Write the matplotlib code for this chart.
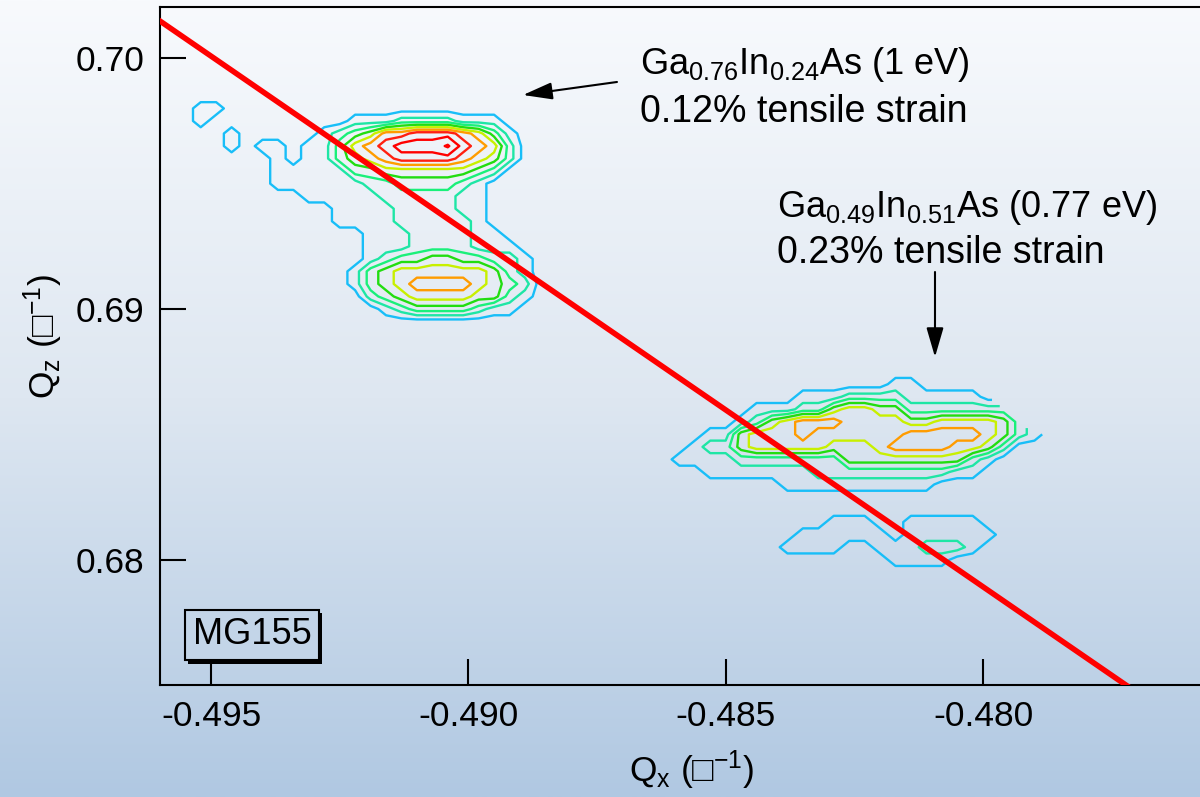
import numpy as np
import matplotlib
matplotlib.use("Agg")
import matplotlib.pyplot as plt
from matplotlib import patheffects

plt.rcParams["font.family"] = ["Liberation Sans", "DejaVu Sans"]
plt.rcParams["mathtext.fontset"] = "custom"
plt.rcParams["mathtext.rm"] = "Liberation Sans"
plt.rcParams["mathtext.it"] = "Liberation Sans"
plt.rcParams["mathtext.bf"] = "Liberation Sans"
plt.rcParams["mathtext.fallback"] = "stix"
plt.rcParams["axes.unicode_minus"] = False

# ---- reciprocal space map: contour level index at each grid node ('.' = not scanned)
upper_qx_start, upper_qx_step = -0.4955, 0.0003
upper_qz_start, upper_qz_step = 0.6985, -0.0005
upper_map = [
    "0000000000000000000000000",
    "0110000000000000000000000",
    "0100000000011122221110000",
    "0001000001234667776531000",
    "0001011011356788897652000",
    "0000001011345677776542000",
    "0000001111133444444320000",
    "0000001111112233332100000",
    "0000000011111222221100000",
    "0000000000111122221100000",
    "0000000000111122222100000",
    "0000000000001112222110000",
    "0000000000001112222111000",
    "0000000000001233443322100",
    "0000000000013455555542100",
    "0000000000013456666543200",
    "0000000000002345555442100",
    "0000000000000123333211000",
    "0000000000000000000000000",
    "0000000000000000000000000",
]

lower_qx_start, lower_qx_step = -0.4865, 0.0003
lower_qz_start, lower_qz_step = 0.6880, -0.0005
lower_map = [
    "0000000000000000000000......",
    "0000000000000000000000......",
    "00000000000000001100000.....",
    "00000000001112222111110.....",
    "0000000111224554422222222...",
    "0000001245666555544555542...",
    "000011455565555556666654210.",
    "0001224555554445666655420000",
    "0011112222222444444442100000",
    "0000111111122222222211000000",
    "0000000001111111111000000000",
    "0000000000000000000000000000",
    "0000000000000000000000000000",
    "0000000000001110011111000000",
    "0000000000111111011111100000",
    "0000000001111001112221000000",
    "0000000000000000111100000000",
    "0000000000000000000000000000",
    "0000000000000000000000000000",
    "0000000000000000000000000000",
]

contour_levels = [0.5, 1.5, 2.5, 3.5, 4.5, 5.5, 6.5, 7.5, 8.8]
contour_colors = ["#18BEF8", "#1EE6A5", "#1AF07A", "#22DD10", "#C8F000",
                  "#FF9C00", "#FF2010", "#FF0000", "#FF0000"]

# fully relaxed line
relax_qx = [-0.4970, -0.4765]
relax_qz = [0.70291, 0.67398]

x_ticks = [-0.495, -0.490, -0.485, -0.480]
y_ticks = [0.68, 0.69, 0.70]
x_range = (-0.495991, -0.475784)
y_range = (0.675022, 0.702046)

layer_1 = ["Ga$_\\mathregular{0.76}$In$_\\mathregular{0.24}$As (1 eV)", "0.12% tensile strain"]
layer_2 = ["Ga$_\\mathregular{0.49}$In$_\\mathregular{0.51}$As (0.77 eV)", "0.23% tensile strain"]
sample_name = "MG155"


def parse_map(rows):
    vals = [[np.nan if ch == "." else float(ch) for ch in r] for r in rows]
    return np.ma.masked_invalid(np.array(vals))


fig = plt.figure(figsize=(12.0, 7.97), dpi=100)

# background wash, light at the top, blue at the bottom
stop_pos = [0.0, 0.5, 1.0]
stop_rgb = np.array([(248, 250, 253), (222, 231, 241), (176, 200, 226)]) / 255.0
t = np.linspace(0, 1, 500)
grad = np.stack([np.interp(t, stop_pos, stop_rgb[:, i]) for i in range(3)], axis=-1)
bg = fig.add_axes([0, 0, 1, 1], zorder=0)
bg.imshow(grad[:, None, :], aspect="auto", extent=(0, 1, 0, 1), origin="upper",
          interpolation="bilinear")
bg.set_axis_off()

ax = fig.add_axes([160 / 1200, 1 - 684.5 / 797, 1040 / 1200, 677.5 / 797], zorder=1)
ax.patch.set_alpha(0)

for rows, qx0, dqx, qz0, dqz in [
    (upper_map, upper_qx_start, upper_qx_step, upper_qz_start, upper_qz_step),
    (lower_map, lower_qx_start, lower_qx_step, lower_qz_start, lower_qz_step),
]:
    z = parse_map(rows)
    qx = qx0 + dqx * np.arange(z.shape[1])
    qz = qz0 + dqz * np.arange(z.shape[0])
    ax.contour(qx, qz, z, levels=contour_levels, colors=contour_colors,
               linewidths=1.7, zorder=2)

ax.plot(relax_qx, relax_qz, color="#FF0000", lw=4.0, solid_capstyle="butt", zorder=3)

ax.set_xlim(*x_range)
ax.set_ylim(*y_range)
ax.set_xticks(x_ticks)
ax.set_xticklabels([f"{v:.3f}" for v in x_ticks])
ax.set_yticks(y_ticks)
ax.set_yticklabels([f"{v:.2f}" for v in y_ticks])
ax.tick_params(axis="both", direction="in", length=18.5, width=1.5, labelsize=25.5,
               top=False, right=False, color="black")
ax.tick_params(axis="x", pad=11)
ax.tick_params(axis="y", pad=11)
ax.spines["right"].set_visible(False)
for s in ("left", "bottom", "top"):
    ax.spines[s].set_linewidth(1.5)

ax.set_xlabel("Q$_\\mathregular{x}$ (□$^\\mathregular{-1}$)", fontsize=25.5, va="center")
ax.xaxis.set_label_coords((692 - 160) / 1040, (684.5 - 770) / 677.5)
ax.set_ylabel("Q$_\\mathregular{z}$ (□$^\\mathregular{-1}$)", fontsize=25.5, va="center")
ax.yaxis.set_label_coords((43 - 160) / 1040, (684.5 - 336) / 677.5)

# peak labels
ax.text(-0.486665, 0.699374, layer_1[0], fontsize=26, ha="left", va="baseline")
ax.text(-0.486665, 0.697459, layer_1[1], fontsize=27, ha="left", va="baseline")
ax.text(-0.484003, 0.693670, layer_2[0], fontsize=26, ha="left", va="baseline")
ax.text(-0.484003, 0.691835, layer_2[1], fontsize=27, ha="left", va="baseline")

arrow_kw = dict(arrowstyle="-|>,head_length=1.2,head_width=0.35", mutation_scale=15,
                lw=1.5, color="black", shrinkA=0, shrinkB=0)
ax.annotate("", xy=(-0.488938, 0.698536), xytext=(-0.487112, 0.699055), arrowprops=arrow_kw)
ax.annotate("", xy=(-0.480933, 0.688085), xytext=(-0.480933, 0.691476), arrowprops=arrow_kw)

# sample tag
box_fc = tuple(np.interp(635 / 797, stop_pos, stop_rgb[:, i]) for i in range(3))
tag = ax.text((252 - 160) / 1040, (684.5 - 635) / 677.5, sample_name, transform=ax.transAxes,
              fontsize=26, ha="center", va="center",
              bbox=dict(boxstyle="square,pad=0.22", fc=box_fc, ec="black", lw=1.5))
tag.get_bbox_patch().set_path_effects([
    patheffects.SimplePatchShadow(offset=(2.2, -2.2), shadow_rgbFace="black", alpha=1.0),
    patheffects.Normal(),
])

fig.savefig("out.png", dpi=100)
